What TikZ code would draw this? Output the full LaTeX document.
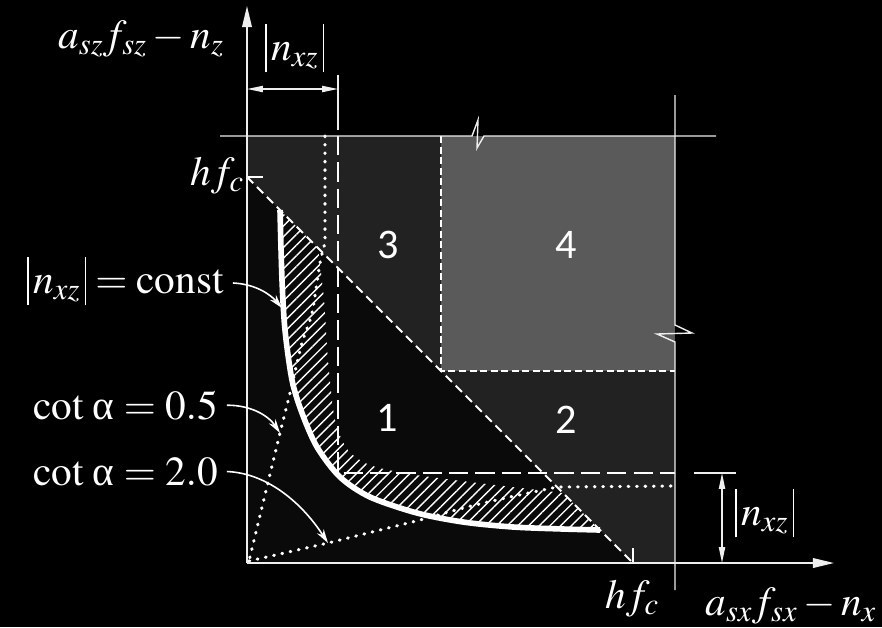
\documentclass[tikz,border=0pt]{standalone}
\usepackage{mathptmx}
\usepackage{fontspec}
\setmainfont{Liberation Serif}
\newfontfamily\numfont{Carlito}
\usetikzlibrary{arrows.meta,patterns.meta}
\definecolor{regc}{HTML}{222222}
\definecolor{lowc}{HTML}{0A0A0A}
\definecolor{r4c}{HTML}{5A5A5A}
\definecolor{lnc}{HTML}{EEEEEE}
\newcommand\absbar{\rule[-0.3em]{0.75pt}{1.17em}}
\newcommand\absnxz{\absbar\,n_{xz}\,\absbar}
\begin{document}
\begin{tikzpicture}[x=0.02cm,y=-0.02cm,
  lbl/.style={text=white,inner sep=0pt,anchor=base west,font=\fontsize{23.5}{28}\selectfont},
  num/.style={text=white,inner sep=0pt,font=\numfont\fontsize{24}{28}\selectfont},
  axis/.style={draw=lnc,line width=0.9pt},
  frame/.style={draw=lnc,line width=0.8pt},
  longdash/.style={draw=white,line width=1.4pt,dash pattern=on 11pt off 4pt},
  shortdash/.style={draw=white,line width=0.7pt,dash pattern=on 4pt off 2pt},
  diagdash/.style={draw=white,line width=1.1pt,dash pattern=on 5pt off 3pt},
  dotline/.style={draw=white,line width=1.8pt,line cap=round,dash pattern=on 0.4pt off 4.4pt},
  lead/.style={draw=white,line width=0.9pt,-{Stealth[length=8pt,width=4.5pt]}},
  dimarr/.style={draw=lnc,line width=0.8pt,{Triangle[length=9pt,width=3.5pt]}-{Triangle[length=9pt,width=3.5pt]}},
  thick curve/.style={draw=white,line width=3.2pt},
]
\useasboundingbox (0,0) rectangle (882,627);
\fill[black] (0,0) rectangle (882,627);
% regions
\fill[regc] (247,136) rectangle (675,563);
\fill[lowc] (247,177) -- (633,563) -- (247,563) -- cycle;
\fill[r4c] (441,136) rectangle (675,371);
% long dashed L
\draw[longdash] (338,136) -- (338,473) -- (675,473);
% hatched band
\path[pattern={Lines[angle=45,distance=4.3pt,line width=0.8pt]},pattern color=white]
  plot[smooth] coordinates {(280,210) (282,280) (285,330) (292,380) (302,413) (317,447) (340,477) (370,497) (417,513) (463,522) (513,527) (563,529) (600,530)}
  -- (563,493)
  -- plot[smooth] coordinates {(563,493) (530,489) (470,482) (410,474) (370,465) (348,450) (335,420) (328,360) (324,300) (318,248)}
  -- cycle;
% short dashed region 4 border
\draw[shortdash] (441,136) -- (441,371) -- (675,371);
% diagonal hf_c -- hf_c
\draw[diagdash] (247,177) -- (633,563);
\draw[white,line width=1.1pt] (263,177) -- (248,177);
\draw[white,line width=1.1pt] (633,548) -- (633,562);
% dotted curves
\draw[dotline] (325,136) -- plot[smooth] coordinates {(325,243) (320,263) (312,313) (302,343) (290,393) (280,433)} -- (249,561);
\draw[dotline] (249,561) -- plot[smooth] coordinates {(328,543) (380,530) (420,520) (467,507) (510,497) (557,487)} -- (675,486);
% |n_xz| = const curve
\draw[thick curve] plot[smooth] coordinates {(280,210) (282,280) (285,330) (292,380) (302,413) (317,447) (340,477) (370,497) (417,513) (463,522) (513,527) (563,529) (600,530)};
% axes
\draw[axis,-{Triangle[length=12pt,width=5.5pt]}] (247,563) -- (247,6);
\draw[axis,-{Triangle[length=12pt,width=5.5pt]}] (247,563) -- (834,563);
% top and right limit lines with breaks
\draw[frame] (220,136) -- (472,136) -- (478,120) -- (477,148) -- (484,136) -- (716,136);
\draw[frame] (675,95) -- (675,325) -- (692,333) -- (657,334) -- (675,342) -- (675,590);
% dimensions
\draw[frame] (338,75) -- (338,130);
\draw[dimarr] (247,89) -- (338,89);
\draw[frame] (694,473) -- (736,473);
\draw[dimarr] (722,473) -- (722,563);
% labels
\node[lbl] (lz) at (58,48) {$a_{sz}f_{sz}-n_z$};
\node[lbl] (nt) at (265,60) {$\absnxz$};
\node[lbl] (hfa) at (190,185) {$hf_c$};
\node[lbl] (cst) at (27,293) {$\absnxz=\mathrm{const}$};
\node[lbl] (c05) at (33,419) {$\cot\,\mbox{α}=0.5$};
\node[lbl] (c20) at (33,485) {$\cot\,\mbox{α}=2.0$};
\node[lbl] (hfb) at (605,608) {$hf_c$};
\node[lbl] (lx) at (705,615) {$a_{sx}f_{sx}-n_x$};
\node[lbl] (nr) at (735,525) {$\absnxz$};
% region numbers
\node[num] (n3) at (388,245) {3};
\node[num] (n4) at (566,245) {4};
\node[num] (n1) at (387,418) {1};
\node[num] (n2) at (566,420) {2};
% leader arrows
\coordinate (p1) at (282,308);
\coordinate (p2) at (280,433);
\coordinate (p3) at (328,543);
\draw[lead] ([xshift=5pt,yshift=-1pt]cst.east) .. controls (255,284) and (270,294) .. (p1);
\draw[lead] ([xshift=5pt]c05.east) .. controls (250,405) and (268,415) .. (p2);
\draw[lead] ([xshift=5pt]c20.east) .. controls (265,473) and (300,500) .. (p3);
\end{tikzpicture}
\end{document}
